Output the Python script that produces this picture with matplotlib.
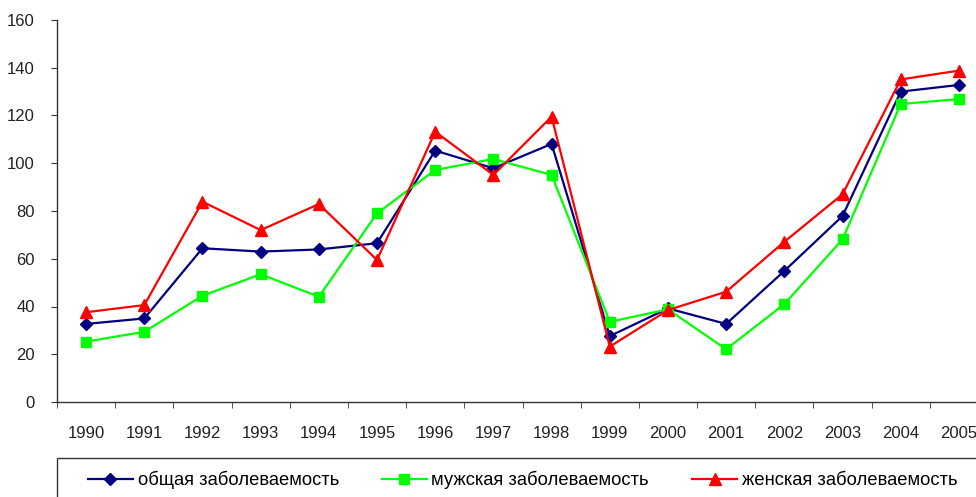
import matplotlib
matplotlib.use("Agg")
import matplotlib.pyplot as plt
from matplotlib.patches import Rectangle
import numpy as np

plt.rcParams['font.family'] = ['Liberation Sans', 'DejaVu Sans']

years = ['1990', '1991', '1992', '1993', '1994', '1995', '1996', '1997',
         '1998', '1999', '2000', '2001', '2002', '2003', '2004', '2005']
total = [32.7, 35.0, 64.4, 63.0, 63.9, 66.5, 105.3, 97.9,
         108.1, 27.6, 39.2, 32.7, 54.9, 77.9, 130.0, 132.8]
male = [25.3, 29.4, 44.5, 53.5, 44.1, 79.0, 97.2, 101.8,
        95.1, 33.6, 38.8, 22.1, 41.0, 68.1, 124.8, 126.9]
female = [37.6, 40.6, 83.9, 72.0, 82.9, 59.5, 113.2, 95.1,
          119.5, 23.2, 38.5, 46.2, 67.1, 87.0, 135.1, 138.8]
labels = ['общая заболеваемость', 'мужская заболеваемость', 'женская заболеваемость']

W, H = 976, 497
fig = plt.figure(figsize=(W / 100, H / 100), dpi=100)
ax = fig.add_axes([57 / W, 1 - 402 / H, 931 / W, 382 / H])

x = np.arange(len(years))
ax.plot(x, total, color='#000080', lw=1.6, marker='D', ms=6, label=labels[0])
ax.plot(x, male, color='#00ff00', lw=1.6, marker='s', ms=7.5, label=labels[1])
ax.plot(x, female, color='#ff0000', lw=1.6, marker='^', ms=8, label=labels[2])

ax.set_xlim(-0.5, len(years) - 0.5)
ax.set_ylim(0, 160)
ax.set_yticks(np.arange(0, 161, 20))
ax.set_xticks(x)
ax.set_xticklabels(years)
ax.set_xticks(np.arange(-0.5, len(years), 1), minor=True)

for s in ['top', 'right']:
    ax.spines[s].set_visible(False)
for s in ['left', 'bottom']:
    ax.spines[s].set_color('#333333')
    ax.spines[s].set_linewidth(1.0)

ax.tick_params(axis='y', length=4, color='#333333', pad=12, labelsize=12, labelcolor='#222222')
ax.tick_params(axis='x', which='major', length=0, pad=17, labelsize=12, labelcolor='#222222')
ax.tick_params(axis='x', which='minor', length=4, color='#333333')

# legend box (runs off the right and bottom edges like the reference)
fig.patches.append(Rectangle((57 / W, -0.05), 0.99, 1 - 458 / H + 0.05,
                             transform=fig.transFigure, fill=False,
                             edgecolor='#333333', lw=1.0))
leg = fig.legend(loc='center left', bbox_to_anchor=(88 / W, 1 - 480 / H),
                 ncol=3, fontsize=13.2, frameon=False,
                 handlelength=2.45, handletextpad=0.25, columnspacing=2.35,
                 borderpad=0, borderaxespad=0)

fig.savefig('out.png', dpi=100)
